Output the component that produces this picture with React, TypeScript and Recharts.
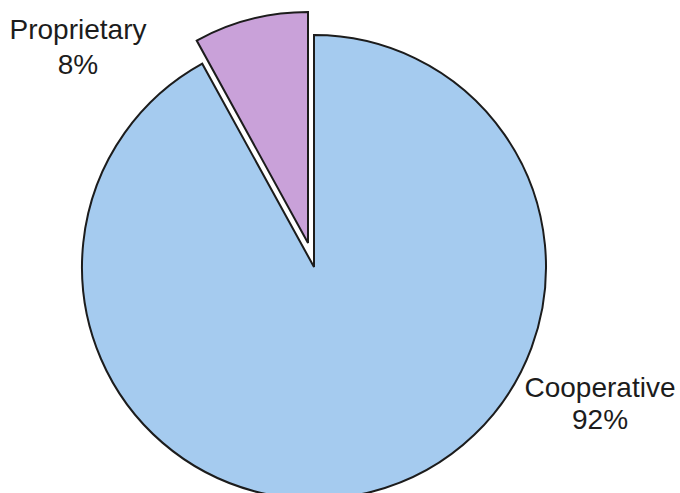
import { Cell, Pie, PieChart } from "recharts";

const names = ["Cooperative", "Proprietary"];
const shares = [92, 8];
const fills = ["#a5cbef", "#c9a1d9"];

// where each label's text block sits (centre x, first baseline y)
const labelPos: Record<string, { x: number; y: number; gap: number }> = {
  Cooperative: { x: 600, y: 397, gap: 32 },
  Proprietary: { x: 78, y: 39, gap: 35 },
};

const data = names.map((name, i) => ({ name, value: shares[i] }));

const FONT = "'Liberation Sans', Arial, sans-serif";

function makeLabel(show: string) {
  return (props: any) => {
    if (props.name !== show) return null;
    const p = labelPos[show];
    return (
      <text
        key={show}
        x={p.x}
        y={p.y}
        textAnchor="middle"
        fill="#1c1c1c"
        fontSize={28}
        fontFamily={FONT}
      >
        <tspan x={p.x} y={p.y}>
          {props.name}
        </tspan>
        <tspan x={p.x} y={p.y + p.gap}>
          {props.value}%
        </tspan>
      </text>
    );
  };
}

export default function App() {
  return (
    <div style={{ position: "absolute", left: 0, top: 0, width: 680, height: 493, background: "#fff" }}>
      <PieChart width={680} height={493} margin={{ top: 0, right: 0, bottom: 0, left: 0 }}>
        <Pie
          data={data}
          dataKey="value"
          nameKey="name"
          cx={314}
          cy={267}
          outerRadius={232}
          startAngle={90}
          endAngle={-270}
          stroke="#1c1c1c"
          strokeWidth={2}
          labelLine={false}
          label={makeLabel("Cooperative")}
          isAnimationActive={false}
        >
          {data.map((d, i) => (
            <Cell key={d.name} fill={i === 0 ? fills[i] : "none"} stroke={i === 0 ? "#1c1c1c" : "none"} />
          ))}
        </Pie>
        <Pie
          data={data}
          dataKey="value"
          nameKey="name"
          cx={308}
          cy={243}
          outerRadius={231}
          startAngle={90}
          endAngle={-270}
          stroke="#1c1c1c"
          strokeWidth={2}
          labelLine={false}
          label={makeLabel("Proprietary")}
          isAnimationActive={false}
        >
          {data.map((d, i) => (
            <Cell key={d.name} fill={i === 1 ? fills[i] : "none"} stroke={i === 1 ? "#1c1c1c" : "none"} />
          ))}
        </Pie>
      </PieChart>
    </div>
  );
}
